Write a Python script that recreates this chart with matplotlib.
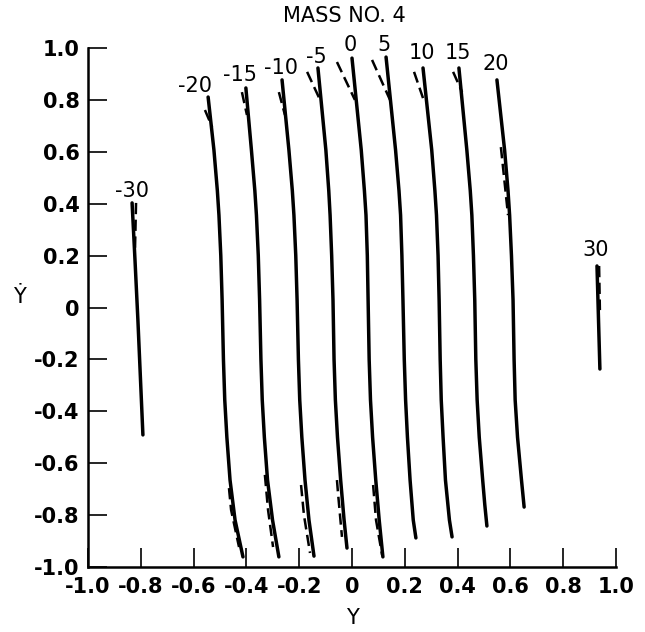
import matplotlib
matplotlib.use("Agg")
import matplotlib.pyplot as plt

plt.rcParams["axes.unicode_minus"] = False
plt.rcParams["font.family"] = ["DejaVu Sans"]

# ---------------- data ----------------
curve_labels = ["-30", "-20", "-15", "-10", "-5", "0", "5", "10", "15", "20", "30"]

# solid curves: Y (horizontal) and Y-dot (vertical), listed top -> bottom
solid_y = [
    [-0.833, -0.822, -0.811, -0.792],
    [-0.545, -0.523, -0.510, -0.504, -0.497, -0.492, -0.487, -0.482, -0.474, -0.462, -0.443, -0.413],
    [-0.402, -0.381, -0.368, -0.362, -0.355, -0.350, -0.345, -0.340, -0.332, -0.320, -0.301, -0.277],
    [-0.265, -0.239, -0.226, -0.220, -0.213, -0.208, -0.203, -0.198, -0.190, -0.178, -0.163, -0.144],
    [-0.129, -0.099, -0.088, -0.083, -0.077, -0.072, -0.068, -0.063, -0.055, -0.043, -0.030, -0.019],
    [0.000, 0.035, 0.047, 0.053, 0.058, 0.061, 0.065, 0.070, 0.078, 0.090, 0.103, 0.117],
    [0.129, 0.165, 0.178, 0.184, 0.189, 0.193, 0.198, 0.203, 0.210, 0.220, 0.232, 0.242],
    [0.269, 0.302, 0.314, 0.320, 0.326, 0.330, 0.334, 0.338, 0.345, 0.354, 0.369, 0.379],
    [0.405, 0.435, 0.448, 0.454, 0.460, 0.465, 0.469, 0.474, 0.482, 0.495, 0.503, 0.511],
    [0.549, 0.578, 0.591, 0.597, 0.604, 0.610, 0.614, 0.618, 0.627, 0.642, 0.652],
    [0.928, 0.939],
]
solid_ydot = [
    [0.403, 0.183, -0.048, -0.491],
    [0.811, 0.607, 0.45, 0.356, 0.2, 0.029, -0.2, -0.356, -0.5, -0.665, -0.819, -0.961],
    [0.846, 0.607, 0.45, 0.356, 0.2, 0.029, -0.2, -0.356, -0.5, -0.665, -0.819, -0.961],
    [0.877, 0.607, 0.45, 0.356, 0.2, 0.029, -0.2, -0.356, -0.5, -0.665, -0.819, -0.958],
    [0.923, 0.607, 0.45, 0.356, 0.2, 0.029, -0.2, -0.356, -0.5, -0.665, -0.819, -0.927],
    [0.961, 0.607, 0.45, 0.356, 0.2, 0.029, -0.2, -0.356, -0.5, -0.665, -0.819, -0.961],
    [0.965, 0.607, 0.45, 0.356, 0.2, 0.029, -0.2, -0.356, -0.5, -0.665, -0.819, -0.888],
    [0.923, 0.607, 0.45, 0.356, 0.2, 0.029, -0.2, -0.356, -0.5, -0.665, -0.819, -0.884],
    [0.923, 0.607, 0.45, 0.356, 0.2, 0.029, -0.2, -0.356, -0.5, -0.665, -0.760, -0.842],
    [0.877, 0.607, 0.45, 0.356, 0.2, 0.029, -0.2, -0.356, -0.5, -0.665, -0.769],
    [0.160, -0.237],
]

# dashed segments where they separate from the solid curves
dashed_y = [
    [-0.818, -0.822],
    [-0.557, -0.530], [-0.466, -0.458, -0.428],
    [-0.417, -0.398], [-0.330, -0.318, -0.299],
    [-0.277, -0.254], [-0.193, -0.182, -0.159],
    [-0.170, -0.121], [-0.057, -0.053, -0.038],
    [-0.057, 0.011], [0.080, 0.091, 0.114],
    [0.076, 0.144],
    [0.235, 0.269],
    [0.383, 0.417],
    [0.564, 0.591],
    [0.936, 0.939],
]
dashed_ydot = [
    [0.403, 0.222],
    [0.761, 0.696], [-0.696, -0.780, -0.923],
    [0.830, 0.742], [-0.645, -0.780, -0.923],
    [0.830, 0.742], [-0.684, -0.800, -0.946],
    [0.908, 0.800], [-0.665, -0.715, -0.884],
    [0.946, 0.800], [-0.684, -0.819, -0.954],
    [0.954, 0.800],
    [0.908, 0.807],
    [0.908, 0.830],
    [0.618, 0.356],
    [0.160, -0.010],
]

label_y = [-0.833, -0.595, -0.424, -0.269, -0.136, -0.008, 0.121, 0.265, 0.402, 0.545, 0.924]
label_ydot = [0.449, 0.854, 0.896, 0.923, 0.965, 1.012, 1.012, 0.981, 0.981, 0.938, 0.222]

x_ticks = [-1.0, -0.8, -0.6, -0.4, -0.2, 0.0, 0.2, 0.4, 0.6, 0.8, 1.0]
x_tick_labels = ["-1.0", "-0.8", "-0.6", "-0.4", "-0.2", "0", "0.2", "0.4", "0.6", "0.8", "1.0"]
y_ticks = [-1.0, -0.8, -0.6, -0.4, -0.2, 0.0, 0.2, 0.4, 0.6, 0.8, 1.0]
y_tick_labels = ["-1.0", "-0.8", "-0.6", "-0.4", "-0.2", "0", "0.2", "0.4", "0.6", "0.8", "1.0"]

# ---------------- plot ----------------
W, H = 645, 632
fig = plt.figure(figsize=(W / 100, H / 100), dpi=100)
ax = fig.add_axes([88 / W, 1 - 567 / H, 528 / W, 519 / H])
ax.set_xlim(-1, 1)
ax.set_ylim(-1, 1)

for sy, sd in zip(solid_y, solid_ydot):
    ax.plot(sy, sd, color="black", lw=2.5, solid_capstyle="round", solid_joinstyle="round")

for dy, dd in zip(dashed_y, dashed_ydot):
    ax.plot(dy, dd, color="black", lw=1.8, dashes=(4.5, 2.2), dash_capstyle="butt")

for lab, lx, ly in zip(curve_labels, label_y, label_ydot):
    ax.text(lx, ly, lab, ha="center", va="center", fontsize=15, clip_on=False)

for sp in ["top", "right"]:
    ax.spines[sp].set_visible(False)
for sp in ["left", "bottom"]:
    ax.spines[sp].set_linewidth(1.8)

ax.set_xticks(x_ticks)
ax.set_xticklabels(x_tick_labels, fontweight="bold")
ax.set_yticks(y_ticks)
ax.set_yticklabels(y_tick_labels, fontweight="bold")
ax.tick_params(direction="in", length=14, width=1.2, labelsize=15)
ax.tick_params(axis="x", pad=7)
ax.tick_params(axis="y", pad=6)

fig.text(344 / W, 1 - 16 / H, "MASS NO. 4", ha="center", va="center", fontsize=15)
fig.text(352 / W, 1 - 618 / H, "Y", ha="center", va="center", fontsize=15)
fig.text(19 / W, 1 - 297 / H, "\u1E8E", ha="center", va="center", fontsize=15)

fig.savefig("out.png", dpi=100, facecolor="white")
